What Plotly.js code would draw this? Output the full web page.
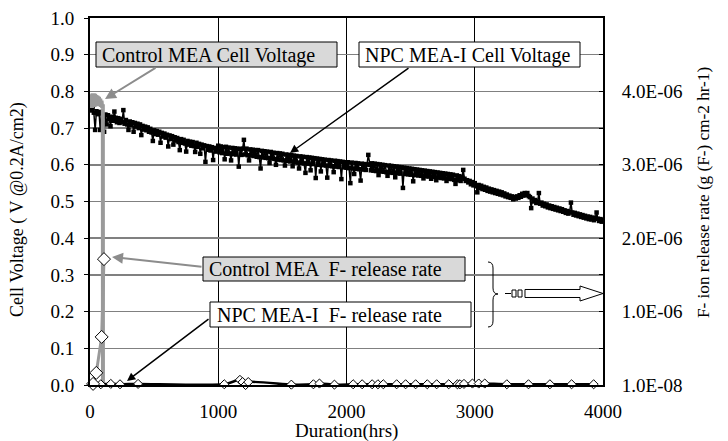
<!DOCTYPE html>
<html><head><meta charset="utf-8">
<script src="https://cdn.plot.ly/plotly-3.0.1.min.js"></script>
<style>body{margin:0;background:#fff}#c{width:728px;height:441px}</style>
</head><body><div id="c"></div>
<script>
// ---- data ----
const npcVoltT = [
0,10,20,30,40,50,60,70,80,90,100,110,120,130,140,150,160,170,180,190,
200,210,220,230,240,250,260,270,280,290,300,310,320,330,340,350,360,370,380,390,
400,410,420,430,440,450,460,470,480,490,500,510,520,530,540,550,560,570,580,590,
600,610,620,630,640,650,660,670,680,690,700,710,720,730,740,750,760,770,780,790,
800,810,820,830,840,850,860,870,880,890,900,910,920,930,940,950,960,970,980,990,
1000,1010,1020,1030,1040,1050,1060,1070,1080,1090,1100,1110,1120,1130,1140,1150,1160,1170,1180,1190,
1200,1210,1220,1230,1240,1250,1260,1270,1280,1290,1300,1310,1320,1330,1340,1350,1360,1370,1380,1390,
1400,1410,1420,1430,1440,1450,1460,1470,1480,1490,1500,1510,1520,1530,1540,1550,1560,1570,1580,1590,
1600,1610,1620,1630,1640,1650,1660,1670,1680,1690,1700,1710,1720,1730,1740,1750,1760,1770,1780,1790,
1800,1810,1820,1830,1840,1850,1860,1870,1880,1890,1900,1910,1920,1930,1940,1950,1960,1970,1980,1990,
2000,2010,2020,2030,2040,2050,2060,2070,2080,2090,2100,2110,2120,2130,2140,2150,2160,2170,2180,2190,
2200,2210,2220,2230,2240,2250,2260,2270,2280,2290,2300,2310,2320,2330,2340,2350,2360,2370,2380,2390,
2400,2410,2420,2430,2440,2450,2460,2470,2480,2490,2500,2510,2520,2530,2540,2550,2560,2570,2580,2590,
2600,2610,2620,2630,2640,2650,2660,2670,2680,2690,2700,2710,2720,2730,2740,2750,2760,2770,2780,2790,
2800,2810,2820,2830,2840,2850,2860,2870,2880,2890,2900,2910,2920,2930,2940,2950,2960,2970,2980,2990,
3000,3010,3020,3030,3040,3050,3060,3070,3080,3090,3100,3110,3120,3130,3140,3150,3160,3170,3180,3190,
3200,3210,3220,3230,3240,3250,3260,3270,3280,3290,3300,3310,3320,3330,3340,3350,3360,3370,3380,3390,
3400,3410,3420,3430,3440,3450,3460,3470,3480,3490,3500,3510,3520,3530,3540,3550,3560,3570,3580,3590,
3600,3610,3620,3630,3640,3650,3660,3670,3680,3690,3700,3710,3720,3730,3740,3750,3760,3770,3780,3790,
3800,3810,3820,3830,3840,3850,3860,3870,3880,3890,3900,3910,3920,3930,3940,3950,3960,3970,3980,3990,
4000];
const npcVolt = [
0.760,0.748,0.755,0.742,0.695,0.746,0.738,0.744,0.695,0.740,0.730,0.690,0.737,0.710,0.735,0.724,0.705,0.731,0.720,0.745,
0.728,0.716,0.727,0.714,0.725,0.716,0.749,0.712,0.722,0.710,0.695,0.718,0.708,0.716,0.690,0.714,0.704,0.712,0.700,0.710,
0.681,0.706,0.696,0.704,0.694,0.702,0.690,0.698,0.688,0.665,0.694,0.684,0.692,0.682,0.690,0.660,0.687,0.677,0.685,0.674,
0.682,0.650,0.680,0.670,0.678,0.655,0.675,0.666,0.673,0.662,0.640,0.670,0.660,0.668,0.658,0.636,0.665,0.655,0.663,0.652,
0.662,0.651,0.635,0.660,0.649,0.657,0.630,0.655,0.645,0.653,0.608,0.651,0.641,0.650,0.639,0.648,0.613,0.646,0.636,0.645,
0.652,0.634,0.650,0.632,0.648,0.615,0.649,0.630,0.647,0.631,0.612,0.646,0.629,0.645,0.628,0.644,0.595,0.643,0.627,0.644,
0.668,0.628,0.644,0.626,0.612,0.642,0.625,0.641,0.624,0.640,0.622,0.640,0.621,0.590,0.638,0.620,0.637,0.619,0.636,0.618,
0.605,0.635,0.617,0.633,0.616,0.600,0.632,0.614,0.631,0.613,0.630,0.612,0.598,0.628,0.611,0.627,0.609,0.626,0.596,0.625,
0.607,0.624,0.606,0.590,0.623,0.605,0.622,0.604,0.578,0.621,0.603,0.620,0.585,0.619,0.602,0.618,0.564,0.617,0.600,0.616,
0.582,0.615,0.599,0.614,0.598,0.565,0.613,0.597,0.612,0.596,0.580,0.611,0.595,0.610,0.594,0.609,0.561,0.608,0.593,0.607,
0.592,0.607,0.591,0.550,0.606,0.590,0.575,0.605,0.589,0.604,0.588,0.557,0.603,0.587,0.602,0.586,0.601,0.627,0.600,0.585,
0.604,0.584,0.603,0.583,0.602,0.572,0.601,0.582,0.600,0.581,0.599,0.580,0.570,0.598,0.579,0.597,0.578,0.596,0.566,0.595,
0.577,0.594,0.576,0.593,0.537,0.592,0.575,0.591,0.574,0.590,0.573,0.589,0.555,0.588,0.572,0.587,0.571,0.586,0.570,0.585,
0.563,0.584,0.569,0.583,0.568,0.582,0.562,0.581,0.567,0.580,0.558,0.579,0.565,0.578,0.564,0.577,0.563,0.576,0.556,0.575,
0.562,0.574,0.561,0.573,0.559,0.548,0.571,0.558,0.569,0.556,0.566,0.586,0.562,0.556,0.558,0.552,0.556,0.547,0.553,0.544,
0.550,0.542,0.525,0.545,0.537,0.543,0.534,0.540,0.532,0.538,0.529,0.535,0.527,0.533,0.525,0.531,0.523,0.529,0.521,0.527,
0.519,0.525,0.517,0.522,0.514,0.519,0.512,0.516,0.510,0.514,0.506,0.512,0.508,0.514,0.510,0.517,0.513,0.521,0.516,0.523,
0.518,0.523,0.515,0.512,0.482,0.508,0.500,0.504,0.496,0.500,0.523,0.494,0.497,0.489,0.494,0.487,0.492,0.484,0.489,0.482,
0.487,0.480,0.485,0.478,0.483,0.476,0.481,0.474,0.479,0.472,0.476,0.469,0.474,0.467,0.472,0.497,0.470,0.464,0.469,0.462,
0.467,0.460,0.465,0.458,0.463,0.456,0.461,0.454,0.459,0.452,0.458,0.451,0.456,0.449,0.455,0.470,0.453,0.447,0.452,0.445,
0.450];

const ctrlVoltT = [0,5,10,15,20,25,30,35,40,45,50,55,60,65,70,75,80,85,90,95,100,101];
const ctrlVolt = [0.785,0.758,0.792,0.755,0.795,0.760,0.795,0.758,0.793,0.762,0.790,0.760,0.788,0.762,0.785,0.760,0.780,0.758,0.775,0.755,0.765,0.0];

const ctrlFT = [24,49,91,109];
const ctrlF = [1.5e-8,1.65e-7,6.55e-7,1.715e-6];

const npcFT = [31,84,162,234,375,1047,1169,1190,1213,1234,1570,1742,1789,1906,2052,2122,2200,2245,2287,2391,2461,2539,2630,2703,2797,2865,2885,2916,2982,3031,3078,3250,3419,3586,3755,3927];
const npcF = [1.5e-8,1e-8,1.5e-8,1e-8,1.5e-8,1e-8,7e-8,4e-8,0,4e-8,5e-9,1e-8,2e-8,5e-9,1e-8,1e-8,1e-8,1e-8,1e-8,1e-8,1e-8,1e-8,1e-8,1e-8,1e-8,1e-8,1e-8,1.5e-8,2e-8,2e-8,2e-8,1e-8,1e-8,1e-8,1e-8,1e-8];

const xTicks = [0,1000,2000,3000,4000];
const yTicks = [0,0.1,0.2,0.3,0.4,0.5,0.6,0.7,0.8,0.9,1.0];
const y2TickVals = [0,5e-7,1e-6,1.5e-6,2e-6,2.5e-6,3e-6,3.5e-6,4e-6,4.5e-6,5e-6];
const y2TickText = ['1.0E-08','','1.0E-06','','2.0E-06','','3.0E-06','','4.0E-06','',''];

const labels = {
  ctrlV: 'Control MEA Cell Voltage',
  npcV: 'NPC MEA-I Cell Voltage',
  ctrlF: 'Control MEA  F- release rate',
  npcF: 'NPC MEA-I  F- release rate',
  xTitle: 'Duration(hrs)',
  yTitle: 'Cell Voltage ( V @0.2A/cm2)',
  y2Title: 'F- ion release rate (g (F-) cm-2 hr-1)'
};

// ---- layout helpers (pixel -> paper) ----
const PL=90, PR=603, PT=18, PB=385;
const px = x => (x-PL)/(PR-PL);
const py = y => (PB-y)/(PB-PT);
const FONT = 'Liberation Serif';
const GRAY = '#9a9a9a';

const traces = [
  {x: npcVoltT, y: npcVolt, type:'scatter', mode:'lines+markers',
   line:{color:'#000', width:1.5}, marker:{symbol:'square', size:4.5, color:'#000'}, yaxis:'y', hoverinfo:'skip'},
  {x: ctrlVoltT, y: ctrlVolt, type:'scatter', mode:'lines',
   line:{color:GRAY, width:4}, yaxis:'y', hoverinfo:'skip'},
  {x: npcFT, y: npcF, type:'scatter', mode:'lines+markers', yaxis:'y2',
   line:{color:'#000', width:2.5, shape:'spline', smoothing:0.6},
   marker:{symbol:'diamond', size:7, color:'#fff', line:{color:'#000', width:1}}, cliponaxis:false, hoverinfo:'skip'},
  {x: ctrlFT, y: ctrlF, type:'scatter', mode:'lines+markers', yaxis:'y2',
   line:{color:GRAY, width:3},
   marker:{symbol:'diamond', size:10, color:'#fff', line:{color:'#000', width:1}}, cliponaxis:false, hoverinfo:'skip'}
];

function rect(x0,y0,x1,y1,fill){
  return {type:'rect', xref:'paper', yref:'paper', x0:px(x0), x1:px(x1), y0:py(y1), y1:py(y0),
    fillcolor:fill, line:{color:'#000', width:1}, layer:'above'};
}
function pathOf(pts){
  return pts.map(p => p[0] + px(p[1]).toFixed(5) + ',' + py(p[2]).toFixed(5)).join(' ');
}
const shapes = [
  rect(96,42,337,67,'#d9d9d9'),
  rect(359,42,580,67,'#ffffff'),
  rect(203,257,465,281,'#d9d9d9'),
  rect(210,302,471,327,'#ffffff'),
  {type:'path', xref:'paper', yref:'paper', line:{color:'#000', width:1}, layer:'above',
   path: pathOf([['M',488,262],['Q',493,262],['',493,268],['L',493,288],['Q',493,294],['',498,294],['Q',493,294],['',493,300],['L',493,321],['Q',493,327],['',488,327]])},
  {type:'line', xref:'paper', yref:'paper', x0:px(505), x1:px(511), y0:py(293.5), y1:py(293.5), line:{color:'#000', width:1}, layer:'above'},
  {type:'rect', xref:'paper', yref:'paper', x0:px(512), x1:px(516), y0:py(297), y1:py(290), line:{color:'#000', width:1}, fillcolor:'#fff', layer:'above'},
  {type:'rect', xref:'paper', yref:'paper', x0:px(518), x1:px(522), y0:py(297), y1:py(290), line:{color:'#000', width:1}, fillcolor:'#fff', layer:'above'},
  {type:'path', xref:'paper', yref:'paper', line:{color:'#000', width:1}, fillcolor:'#fff', layer:'above',
   path: pathOf([['M',525,289.5],['L',580,289.5],['L',580,286],['L',603,293.5],['L',580,301],['L',580,297.5],['L',525,297.5]]) + ' Z'}
];

function label(text, x, y){
  return {text, xref:'paper', yref:'paper', x:px(x), y:py(y), xanchor:'left', yanchor:'middle',
    showarrow:false, font:{family:FONT, size:20, color:'#000'}};
}
function arrow(tipX, tipY, tailX, tailY, color, w){
  return {text:'', xref:'paper', yref:'paper', x:px(tipX), y:py(tipY), ax:tailX-tipX, ay:tailY-tipY,
    axref:'pixel', ayref:'pixel', showarrow:true, arrowhead:2, arrowsize:1.1, arrowwidth:w, arrowcolor:color};
}
const annotations = [
  label(labels.ctrlV, 100, 55),
  label(labels.npcV, 363, 55),
  label(labels.ctrlF, 207, 269),
  label(labels.npcF, 215, 315),
  arrow(105, 99, 157, 67, '#8c8c8c', 2),
  arrow(290, 153, 410, 67, '#000', 1.5),
  arrow(112, 257, 203, 267, '#8c8c8c', 2),
  arrow(127, 381, 210, 318, '#000', 1.5),
  {text: labels.xTitle, xref:'paper', yref:'paper', x:px(346), y:py(431), xanchor:'center', yanchor:'middle',
   showarrow:false, font:{family:FONT, size:19, color:'#000'}},
  {text: labels.yTitle, xref:'paper', yref:'paper', x:px(18), y:py(210), xanchor:'center', yanchor:'middle',
   textangle:-90, showarrow:false, font:{family:FONT, size:18, color:'#000'}},
  {text: labels.y2Title, xref:'paper', yref:'paper', x:px(703), y:py(193), xanchor:'center', yanchor:'middle',
   textangle:-90, showarrow:false, font:{family:FONT, size:17.2, color:'#000'}}
];

const layout = {
  width:728, height:441, margin:{l:90, r:125, t:18, b:56},
  paper_bgcolor:'#fff', plot_bgcolor:'#fff', showlegend:false,
  font:{family:FONT, size:19, color:'#000'},
  xaxis:{range:[0,4000], tickvals:xTicks, ticks:'', showgrid:true, gridcolor:'#000', gridwidth:1,
    zeroline:false, showline:true, linecolor:'#000', linewidth:2, mirror:true,
    tickfont:{family:FONT, size:19}, ticklabelstandoff:8},
  yaxis:{range:[0,1], tickvals:yTicks, tickformat:'.1f', ticks:'outside', ticklen:4, tickcolor:'#000',
    showgrid:true, gridcolor:'#808080', gridwidth:1.5, zeroline:false, showline:true, linecolor:'#000',
    linewidth:2, mirror:true, tickfont:{family:FONT, size:19}, ticklabelstandoff:6},
  yaxis2:{range:[0,5e-6], overlaying:'y', side:'right', tickvals:y2TickVals, ticktext:y2TickText,
    ticks:'inside', ticklen:4, tickcolor:'#000', showgrid:false, zeroline:false, showline:true,
    linecolor:'#000', linewidth:2, tickfont:{family:FONT, size:19}, ticklabelstandoff:13},
  shapes, annotations
};

Plotly.newPlot('c', traces, layout, {staticPlot:true, displayModeBar:false});
</script>
</body></html>
